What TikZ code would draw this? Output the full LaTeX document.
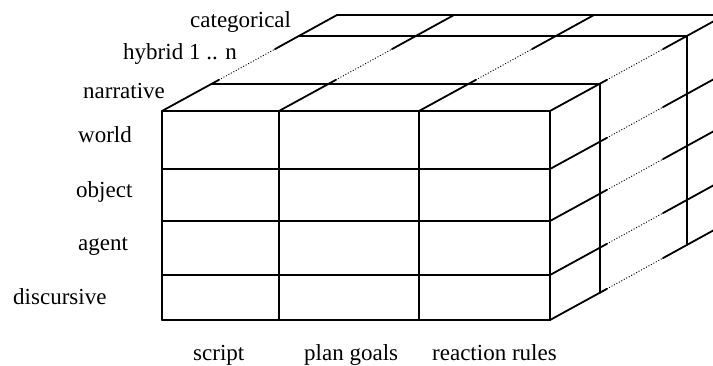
\documentclass[tikz,border=0pt]{standalone}
\usepackage{fontspec}
\setmainfont{Liberation Serif}
\begin{document}
\begin{tikzpicture}[x=1pt,y=-1pt,
  edge/.style={line width=1.8pt, line cap=round},
  dots/.style={line width=1.4pt, dash pattern=on 0.01pt off 2.8pt, line cap=round},
  lab/.style={anchor=base west, inner sep=0pt, font=\fontsize{23}{27}\selectfont}]
\useasboundingbox (0,0) rectangle (713,365);
\clip (0,0) rectangle (713,365);
% front face grid
\foreach \y in {111,169,221,275,320} \draw[edge] (162,\y) -- (550,\y);
\foreach \x in {162,279,419,550} \draw[edge] (\x,111) -- (\x,320);
% depth planes: top edges
\draw[edge] (212,84) -- (600,84);
\draw[edge] (299,36) -- (687,36);
\draw[edge] (337,15) -- (725,15);
% depth planes: right edges
\draw[edge] (600,84) -- (600,293);
\draw[edge] (687,36) -- (687,245);
\draw[edge] (725,15) -- (725,224);
% depth lines
\foreach \p in {(162,111),(279,111),(419,111),(550,111),(550,169),(550,221),(550,275),(550,320)} {
  \draw[edge] \p -- ++(57,-31.2);
  \draw[dots] \p ++(57,-31.2) -- ++(56,-30.7);
  \draw[edge] \p ++(113,-61.9) -- ++(62,-34.1);
}
% labels
\node[lab] (categorical) at (190,27) {categorical};
\node[lab] (hybrid) at (123,59) {hybrid 1 .. n};
\node[lab] (narrative) at (83,98) {narrative};
\node[lab] (world) at (78,142) {world};
\node[lab] (object) at (76,197) {object};
\node[lab] (agent) at (78,250) {agent};
\node[lab] (discursive) at (13,304) {discursive};
\node[lab] (script) at (193,360) {script};
\node[lab] (plan) at (304,360) {plan goals};
\node[lab] (reaction) at (432,360) {reaction rules};
\end{tikzpicture}
\end{document}
